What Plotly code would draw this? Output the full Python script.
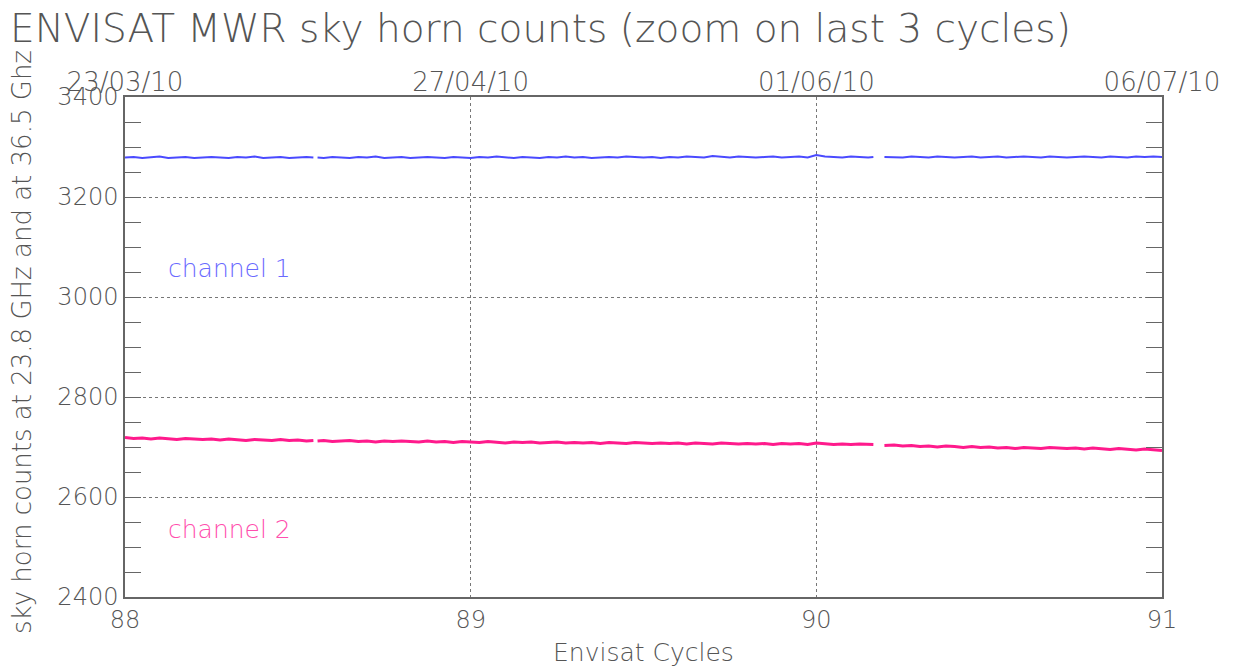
import plotly.graph_objects as go

# ---- data ----
seg_a = [88 + 0.025 * i for i in range(22)]           # 88.000 .. 88.525
seg_b = [88.575 + 0.025 * i for i in range(64)]       # 88.575 .. 90.150
seg_c = [90.225 + 0.025 * i for i in range(32)]       # 90.225 .. 91.000
cycles = seg_a + [88.545, 88.551, 88.557] + seg_b + [90.165, 90.181, 90.197] + seg_c

channel1 = (
    [3279, 3280, 3278, 3279, 3281, 3278, 3279, 3280, 3278, 3279, 3280, 3279, 3278, 3280, 3279, 3281,
     3278, 3279, 3280, 3278, 3279, 3280]
    + [3279, None, 3279]
    + [3278, 3280, 3279, 3278, 3280, 3279, 3281, 3278, 3279, 3280,
       3278, 3279, 3280, 3279, 3278, 3280, 3279, 3278, 3280, 3279,
       3281, 3279, 3278, 3280, 3279, 3278, 3280, 3279, 3281, 3279,
       3280, 3278, 3279, 3280, 3279, 3281, 3280, 3279, 3280, 3278,
       3280, 3279, 3281, 3280, 3279, 3282, 3280, 3279, 3281, 3280,
       3279, 3280, 3281, 3279, 3280, 3281, 3279, 3284, 3281, 3280,
       3279, 3281, 3280, 3279]
    + [3280, None, 3280]
    + [3280, 3279, 3281, 3280, 3279, 3281, 3280, 3279, 3280, 3281,
       3279, 3280, 3281, 3279, 3280, 3281, 3280, 3279, 3281, 3280,
       3279, 3280, 3281, 3280, 3279, 3281, 3280, 3279, 3281, 3280,
       3281, 3280]
)

channel2 = (
    [2719, 2717, 2718, 2716, 2718, 2717, 2715, 2717, 2716, 2715,
     2716, 2714, 2716, 2715, 2713, 2715, 2714, 2713, 2715, 2713, 2714, 2712]
    + [2713, None, 2712]
    + [2713, 2711, 2712, 2713, 2711, 2712, 2710, 2712, 2711, 2712,
       2711, 2710, 2712, 2710, 2711, 2709, 2711, 2710, 2709, 2711,
       2710, 2708, 2710, 2709, 2710, 2708, 2709, 2710, 2708, 2709,
       2708, 2709, 2707, 2709, 2708, 2707, 2709, 2708, 2707, 2708,
       2707, 2708, 2706, 2708, 2707, 2706, 2708, 2707, 2706, 2707,
       2706, 2707, 2705, 2707, 2706, 2707, 2705, 2708, 2706, 2705,
       2706, 2705, 2706, 2705]
    + [2705, None, 2703]
    + [2704, 2702, 2703, 2701, 2702, 2700, 2702, 2701, 2699, 2701,
       2699, 2700, 2698, 2699, 2697, 2699, 2698, 2697, 2699, 2698,
       2697, 2698, 2696, 2698, 2697, 2695, 2697, 2696, 2694, 2696,
       2694, 2693]
)

cycle_ticks = [88, 89, 90, 91]
date_labels = ["23/03/10", "27/04/10", "01/06/10", "06/07/10"]
y_ticks = [2400, 2600, 2800, 3000, 3200, 3400]

FONT = "DejaVu Sans"
TXT = "#555555"
AX = "#666666"

# page body has an 8px margin: figure is placed at (8, 8)
W, H = 1227, 660
L, R, T, B = 117, 73, 89, 71
PW, PH = W - L - R, H - T - B


def px_x(px):  # page pixel -> paper x
    return (px - 8 - L) / PW


def px_y(py):  # page pixel -> paper y
    return 1 - (py - 8 - T) / PH


fig = go.Figure()
fig.add_trace(go.Scatter(x=cycles, y=channel1, mode="lines", connectgaps=False,
                         line=dict(color="#4a4aff", width=2), showlegend=False))
fig.add_trace(go.Scatter(x=cycles, y=channel2, mode="lines", connectgaps=False,
                         line=dict(color="#ff1a8c", width=3), showlegend=False))
# invisible trace for the top axis
fig.add_trace(go.Scatter(x=[cycle_ticks[0], cycle_ticks[-1]], y=[None, None], xaxis="x2",
                         mode="lines", showlegend=False, hoverinfo="skip"))

fig.update_layout(
    width=W, height=H,
    margin=dict(l=L, r=R, t=T, b=B, autoexpand=False),
    paper_bgcolor="white", plot_bgcolor="white",
    font=dict(family=FONT, color=TXT, size=24),
    title=dict(text="ENVISAT MWR sky horn counts (zoom on last 3 cycles)",
               x=(10 - 8) / W, xanchor="left", xref="container",
               y=1 - (28 - 8) / H, yanchor="middle", yref="container",
               font=dict(family=FONT, size=39, color=TXT, weight=200)),
    xaxis=dict(range=[88, 91], tickvals=cycle_ticks, ticktext=[str(c) for c in cycle_ticks],
               showgrid=True, gridcolor="#777777", griddash="dot", gridwidth=1,
               showline=True, linecolor=AX, linewidth=1.5, mirror=True,
               ticks="", zeroline=False,
               tickfont=dict(family=FONT, size=24, color=TXT, weight=200)),
    xaxis2=dict(range=[88, 91], overlaying="x", side="top", anchor="y",
                tickvals=cycle_ticks, ticktext=date_labels, showgrid=False,
                showline=False, ticks="", zeroline=False,
                tickfont=dict(family=FONT, size=26, color=TXT, weight=200)),
    yaxis=dict(range=[2400, 3400], tickvals=y_ticks, ticktext=[str(v) for v in y_ticks],
               showgrid=True, gridcolor="#777777", griddash="dot", gridwidth=1,
               showline=True, linecolor=AX, linewidth=1.5, mirror="ticks",
               ticks="inside", ticklen=16, tickwidth=1.2, tickcolor=AX,
               minor=dict(dtick=50, ticks="inside", ticklen=16, tickwidth=1.2, tickcolor=AX,
                          showgrid=False),
               zeroline=False,
               tickfont=dict(family=FONT, size=24, color=TXT, weight=200)),
    annotations=[
        dict(text="sky horn counts at 23.8 GHz and at 36.5 Ghz", textangle=-90,
             xref="paper", yref="paper", x=px_x(22), y=px_y(342),
             xanchor="center", yanchor="middle", showarrow=False,
             font=dict(family=FONT, size=26, color=TXT, weight=200)),
        dict(text="Envisat Cycles", xref="paper", yref="paper",
             x=px_x(643), y=px_y(652), xanchor="center", yanchor="middle",
             showarrow=False, font=dict(family=FONT, size=25, color=TXT, weight=200)),
        dict(text="channel 1", xref="x", yref="y", x=88.12, y=3058, xanchor="left",
             yanchor="middle", showarrow=False,
             font=dict(family=FONT, size=25, color="#6a6aff", weight=200)),
        dict(text="channel 2", xref="x", yref="y", x=88.12, y=2535, xanchor="left",
             yanchor="middle", showarrow=False,
             font=dict(family=FONT, size=25, color="#ff4fae", weight=200)),
    ],
)

fig.write_html("out.html")
